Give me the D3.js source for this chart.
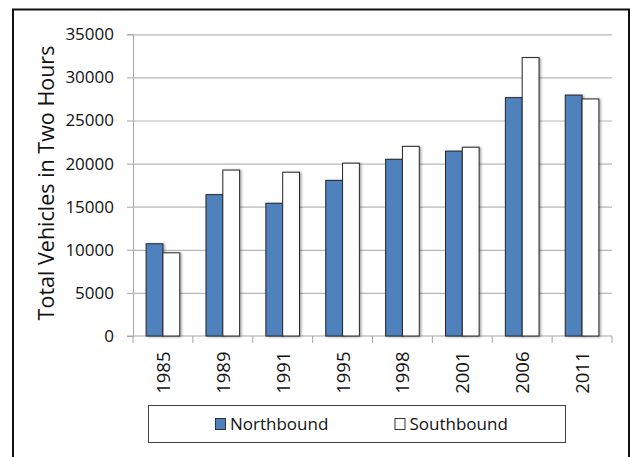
<!DOCTYPE html>
<html>
<head>
<meta charset="utf-8">
<script src="https://cdn.jsdelivr.net/npm/d3@7"></script>
<style>
  html, body { margin: 0; padding: 0; background: #fff; }
  svg { display: block; }
  text { font-family: "Open Sans", "Noto Sans", sans-serif; fill: #111; }
</style>
</head>
<body>
<svg id="chart" width="631" height="457"></svg>
<script>
// Traffic counts by survey year
const years = ["1985", "1989", "1991", "1995", "1998", "2001", "2006", "2011"];
const seriesNames = ["Northbound", "Southbound"];
const northbound = [10700, 16400, 15400, 18050, 20500, 21450, 27650, 27950];
const southbound = [9650, 19250, 19000, 20050, 22000, 21900, 32300, 27500];
const yTicks = [0, 5000, 10000, 15000, 20000, 25000, 30000, 35000];
const seriesColors = ["#4f81bd", "#ffffff"];

const rows = years.map((y, i) => ({ year: y, values: [northbound[i], southbound[i]] }));

const svg = d3.select("#chart");

const plot = { left: 133, right: 612, top: 34.3, bottom: 336 };

const x0 = d3.scaleBand().domain(years).range([plot.left, plot.right]).padding(0);
const x1 = d3.scaleBand().domain(seriesNames).range([0, x0.bandwidth()])
  .paddingInner(0).paddingOuter(0.78);
const y = d3.scaleLinear().domain([0, 35000]).range([plot.bottom, plot.top]);

// Soft shadow under the bars
const defs = svg.append("defs");
const f = defs.append("filter").attr("id", "shadow")
  .attr("x", "-20%").attr("y", "-5%").attr("width", "150%").attr("height", "115%");
f.append("feDropShadow").attr("dx", 1.5).attr("dy", 0.5)
  .attr("stdDeviation", 0.9).attr("flood-color", "#000").attr("flood-opacity", 0.35);

// Outer frame (open at the bottom)
svg.append("path")
  .attr("d", "M13,457 L13,9.5 L629,9.5 L629,457")
  .attr("fill", "none").attr("stroke", "#111").attr("stroke-width", 2);

// Horizontal gridlines and y axis
const yAxis = d3.axisLeft(y).tickValues(yTicks).tickFormat(d3.format("d"))
  .tickSize(6).tickPadding(13);
const gy = svg.append("g").attr("transform", `translate(${plot.left},0)`).call(yAxis);
gy.select(".domain").attr("stroke", "#a6a6a6");
gy.selectAll(".tick line").attr("stroke", "#a6a6a6");
gy.selectAll(".tick text").attr("font-size", 17).attr("fill", "#111")
  .attr("font-family", "\"Open Sans\", sans-serif");
gy.selectAll(".tick").filter(d => d > 0).append("line")
  .attr("x1", 0).attr("x2", plot.right - plot.left)
  .attr("stroke", "#b8b8b8").attr("stroke-width", 1.2);

// X axis with ticks between categories
const xAxisLine = svg.append("g");
xAxisLine.append("line")
  .attr("x1", plot.left - 6).attr("x2", plot.right)
  .attr("y1", y(0)).attr("y2", y(0))
  .attr("stroke", "#a6a6a6").attr("stroke-width", 1.2);
const boundaries = years.map(d => x0(d)).concat([plot.right]);
xAxisLine.selectAll("line.tk").data(boundaries).join("line").attr("class", "tk")
  .attr("x1", d => d).attr("x2", d => d)
  .attr("y1", y(0)).attr("y2", y(0) + 7)
  .attr("stroke", "#a6a6a6");

// Bars
const groups = svg.append("g").selectAll("g").data(rows).join("g")
  .attr("transform", d => `translate(${x0(d.year)},0)`);
groups.selectAll("rect").data(d => d.values.map((v, i) => ({ key: seriesNames[i], value: v, i })))
  .join("rect")
  .attr("x", d => x1(d.key))
  .attr("y", d => y(d.value))
  .attr("width", x1.bandwidth())
  .attr("height", d => y(0) - y(d.value))
  .attr("fill", d => seriesColors[d.i])
  .attr("stroke", "#262626").attr("stroke-width", 1)
  .attr("filter", "url(#shadow)");

// Year labels, rotated
svg.append("g").selectAll("text").data(years).join("text")
  .attr("transform", d => `translate(${x0(d) + x0.bandwidth() / 2 + 7},${y(0) + 15.5}) rotate(-90)`)
  .attr("text-anchor", "end")
  .attr("font-size", 18.5)
  .text(d => d);

// Y axis title
svg.append("text")
  .attr("transform", `translate(54,183) rotate(-90)`)
  .attr("text-anchor", "middle")
  .attr("font-size", 21.5)
  .text("Total Vehicles in Two Hours");

// Legend
const legend = svg.append("g");
legend.append("rect")
  .attr("x", 148.5).attr("y", 405.5).attr("width", 417).attr("height", 37)
  .attr("fill", "#fff").attr("stroke", "#404040").attr("stroke-width", 1);
const legendX = [215, 394.5];
const items = legend.selectAll("g").data(seriesNames).join("g")
  .attr("transform", (d, i) => `translate(${legendX[i]},0)`);
items.append("rect")
  .attr("x", 0.5).attr("y", 418.5).attr("width", 10).attr("height", 11)
  .attr("fill", (d, i) => seriesColors[i]).attr("stroke", "#333");
items.append("text")
  .attr("x", 15).attr("y", 430)
  .attr("font-size", 17)
  .text(d => d);
</script>
</body>
</html>
